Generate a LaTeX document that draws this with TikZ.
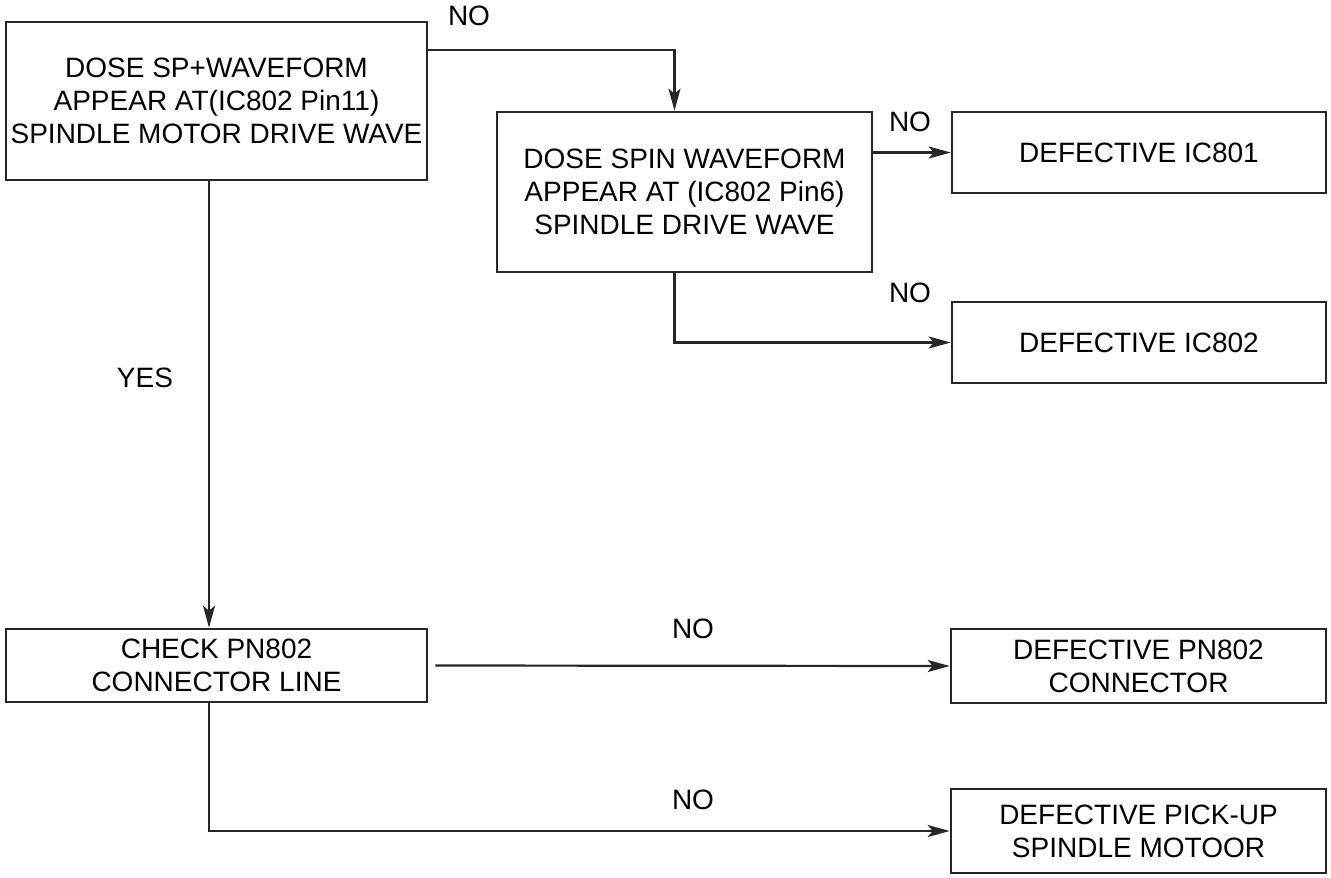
\documentclass[tikz,border=0pt]{standalone}
\usepackage{fontspec}
\setmainfont{Liberation Sans}
\usetikzlibrary{arrows.meta,calc}
\begin{document}
\begin{tikzpicture}[x=1pt,y=-1pt,
  box/.style={draw=black!85,line width=2.6pt,rectangle,inner sep=0pt,align=center,
    font=\fontsize{28}{33}\selectfont},
  conn/.style={draw=black!85,line width=2.2pt},
  arr/.style={conn,-{Stealth[length=22pt,width=12pt,inset=5pt]}},
  lbl/.style={font=\fontsize{28}{33}\selectfont,inner sep=0pt}]
\useasboundingbox (0,0) rectangle (1331,878);
\node[box,minimum width=421pt,minimum height=158pt] (A) at (216.5,101)
  {DOSE SP+WAVEFORM\\APPEAR AT(IC802 Pin11)\\SPINDLE MOTOR DRIVE WAVE};
\node[box,minimum width=375pt,minimum height=160pt] (B) at (684.5,192)
  {DOSE SPIN WAVEFORM\\APPEAR AT (IC802 Pin6)\\SPINDLE DRIVE WAVE};
\node[box,minimum width=374pt,minimum height=81pt] (C) at (1139,152.5) {DEFECTIVE IC801};
\node[box,minimum width=374pt,minimum height=81pt] (D) at (1139,342.5) {DEFECTIVE IC802};
\node[box,minimum width=421pt,minimum height=73pt] (E) at (216.5,665.5)
  {CHECK PN802\\CONNECTOR LINE};
\node[box,minimum width=375pt,minimum height=74pt] (F) at (1138.5,666)
  {DEFECTIVE PN802\\CONNECTOR};
\node[box,minimum width=375pt,minimum height=84pt] (G) at (1138.5,831)
  {DEFECTIVE PICK-UP\\SPINDLE MOTOOR};
% connectors
\coordinate (a1) at ($(A.north east)+(0,29)$);
\coordinate (b1) at ($(B.north)+(-10,0)$);
\draw[arr] (a1) -| (b1);
\draw[arr] (B.east |- C.west) -- (C.west);
\coordinate (b2) at ($(B.south)+(-10,0)$);
\draw[arr] (b2) |- (D.west);
\coordinate (a2) at ($(A.south)+(-7.5,0)$);
\coordinate (e1) at ($(E.north)+(-7.5,0)$);
\draw[arr] (a2) -- (e1);
\draw[arr,shorten <=7pt] (E.east) -- (F.west);
\coordinate (e2) at ($(E.south)+(-7.5,0)$);
\draw[arr] (e2) |- (G.west);
% labels
\node[lbl] (l1) at (469,16) {NO};
\node[lbl] (l2) at (910,122) {NO};
\node[lbl] (l3) at (910,293) {NO};
\node[lbl] (l4) at (145,378) {YES};
\node[lbl] (l5) at (693,629) {NO};
\node[lbl] (l6) at (693,800) {NO};
\end{tikzpicture}
\end{document}
